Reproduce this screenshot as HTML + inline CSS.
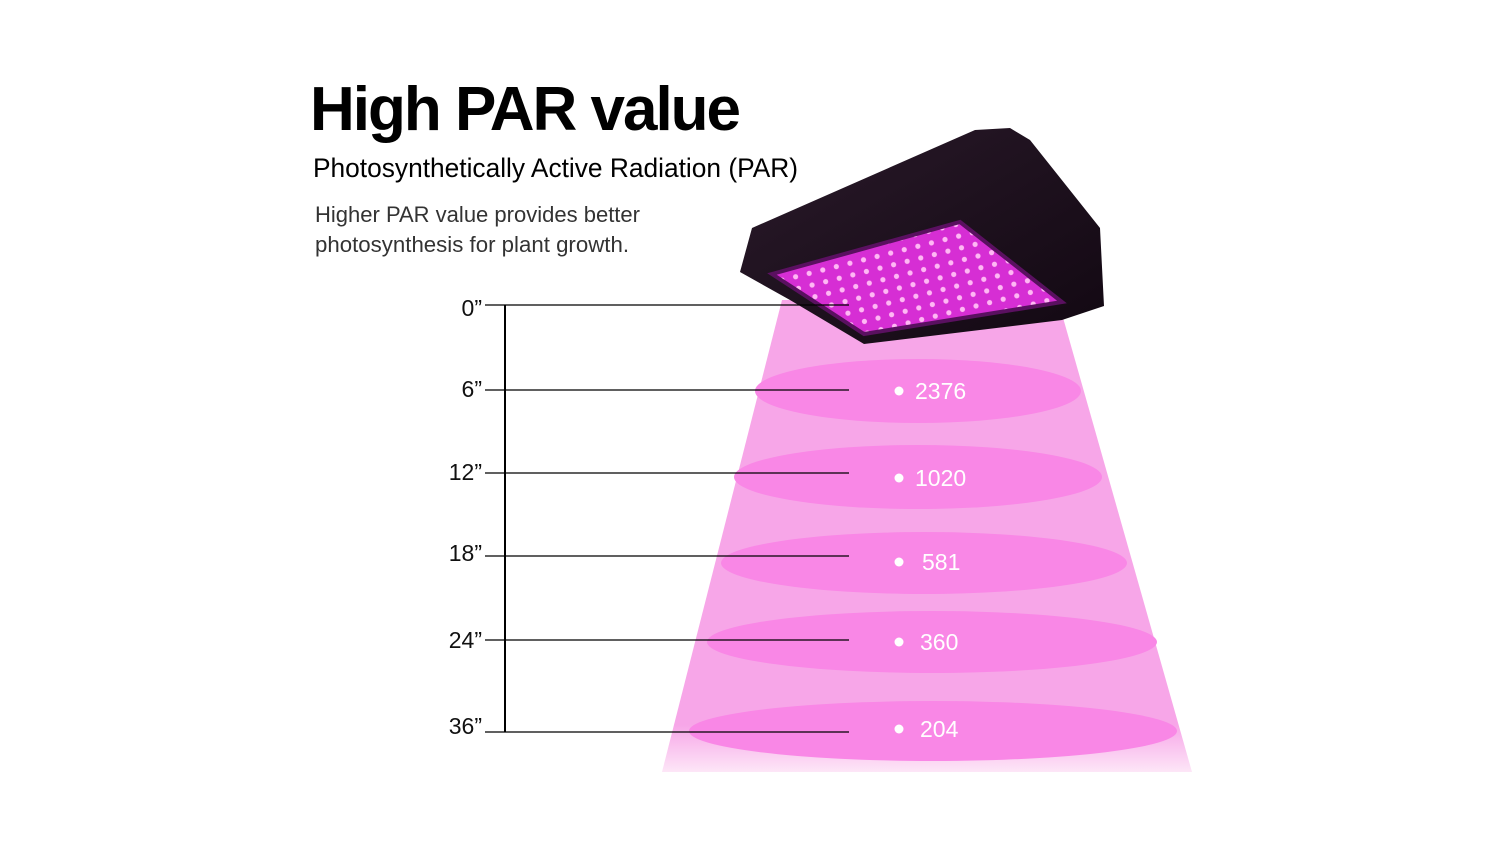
<!DOCTYPE html>
<html><head><meta charset="utf-8"><style>
body{margin:0;width:1500px;height:844px;background:#fff;overflow:hidden;font-family:"Liberation Sans",sans-serif}
</style></head><body>
<svg width="1500" height="844" viewBox="0 0 1500 844" xmlns="http://www.w3.org/2000/svg">
<defs>
<linearGradient id="fade" x1="0" y1="0" x2="0" y2="1">
<stop offset="0" stop-color="#f7a6e8"/><stop offset="0.9" stop-color="#f7a6e8"/><stop offset="1" stop-color="#fde6f7"/>
</linearGradient>
<pattern id="leds" width="14" height="12" patternUnits="userSpaceOnUse" patternTransform="rotate(-14)">
<circle cx="5" cy="5" r="2.6" fill="#ffb8f4"/>
</pattern>
<linearGradient id="body" x1="0" y1="0" x2="1" y2="1">
<stop offset="0" stop-color="#2a1a2a"/><stop offset="1" stop-color="#120812"/>
</linearGradient>
</defs>
<polygon points="782,300 1058,300 1192,772 662,772" fill="url(#fade)"/>
<g fill="#f987e6">
<ellipse cx="918" cy="391" rx="163" ry="32"/>
<ellipse cx="918" cy="477" rx="184" ry="32"/>
<ellipse cx="924" cy="563" rx="203" ry="31"/>
<ellipse cx="932" cy="642" rx="225" ry="31"/>
<ellipse cx="933" cy="731" rx="244" ry="30"/>
</g>
<polygon points="740,272 752,228 975,130 1010,128 1030,140 1100,228 1104,306 1062,320 864,344 790,300" fill="url(#body)"/>
<polygon points="772,274 960,222 1062,302 864,334" fill="#d62ed4"/>
<polygon points="772,274 960,222 1062,302 864,334" fill="url(#leds)"/>
<polygon points="772,274 960,222 1062,302 864,334" fill="none" stroke="#5a1060" stroke-width="4"/>
<g stroke="#000" stroke-width="1.2">
<line x1="485" y1="305" x2="849" y2="305"/>
<line x1="485" y1="390" x2="849" y2="390"/>
<line x1="485" y1="473" x2="849" y2="473"/>
<line x1="485" y1="556" x2="849" y2="556"/>
<line x1="485" y1="640" x2="849" y2="640"/>
<line x1="485" y1="732" x2="849" y2="732"/>
</g>
<line x1="505" y1="305" x2="505" y2="732" stroke="#000" stroke-width="2"/>
<g font-size="23" fill="#111" text-anchor="end">
<text x="482" y="316">0”</text>
<text x="482" y="397">6”</text>
<text x="482" y="480">12”</text>
<text x="482" y="561">18”</text>
<text x="482" y="648">24”</text>
<text x="482" y="734">36”</text>
</g>
<g fill="#fff" font-size="23">
<circle cx="899" cy="391" r="4.5"/><text x="915" y="399">2376</text>
<circle cx="899" cy="478" r="4.5"/><text x="915" y="486">1020</text>
<circle cx="899" cy="562" r="4.5"/><text x="922" y="570">581</text>
<circle cx="899" cy="642" r="4.5"/><text x="920" y="650">360</text>
<circle cx="899" cy="729" r="4.5"/><text x="920" y="737">204</text>
</g>
<text x="310" y="130" font-size="62" font-weight="bold" fill="#000" letter-spacing="-2">High PAR value</text>
<text x="313" y="177" font-size="27" fill="#000" textLength="485" lengthAdjust="spacingAndGlyphs">Photosynthetically Active Radiation (PAR)</text>
<text x="315" y="222" font-size="22" fill="#333" textLength="325" lengthAdjust="spacingAndGlyphs">Higher PAR value provides better</text>
<text x="315" y="252" font-size="22" fill="#333" textLength="314" lengthAdjust="spacingAndGlyphs">photosynthesis for plant growth.</text>
</svg>
</body></html>
